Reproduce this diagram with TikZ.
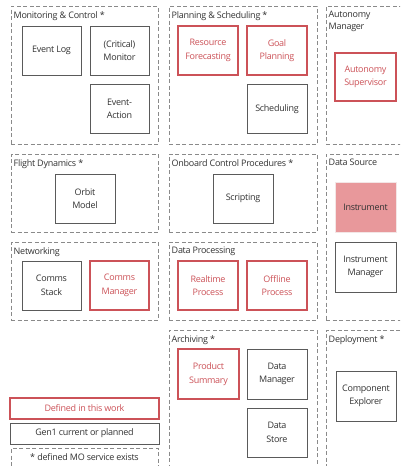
\documentclass[tikz,border=0pt]{standalone}
\usepackage{fontspec}
\setmainfont{Open Sans}
\definecolor{myred}{HTML}{CC5258}
\definecolor{mypink}{HTML}{E8989B}
\definecolor{grpline}{HTML}{8A8A8A}
\definecolor{boxline}{HTML}{5A5A5A}
\definecolor{txt}{HTML}{333333}
\tikzset{
  grp/.style={draw=grpline, dash pattern=on 4pt off 2.5pt, line width=0.9pt, anchor=north west, inner sep=0pt, outer sep=0pt},
  gtitle/.style={anchor=north west, inner sep=0pt, font=\fontsize{9}{12}\selectfont\addfontfeatures{LetterSpace=-3}, text=txt, align=left},
  blk/.style={draw=boxline, line width=1pt, minimum width=59pt, minimum height=49pt, align=center, inner sep=1pt, font=\fontsize{9}{13.5}\selectfont\addfontfeatures{LetterSpace=-3}, text=txt},
  redblk/.style={blk, draw=myred, text=myred, line width=1.3pt},
  fillblk/.style={blk, draw=mypink!85!black!20, fill=mypink, line width=0.6pt},
}
\newcommand\grp[6]{%
  \node[grp, minimum width={#4-#2}, minimum height={#5-#3}] (#1) at (#2,#3) {};
  \node[gtitle] (#1t) at ([xshift=2.5pt,yshift=-5pt]#1.north west) {#6};}
\begin{document}
\begin{tikzpicture}[x=1pt,y=-1pt]
\useasboundingbox (0,0) rectangle (400,466);
\clip (0,0) rectangle (400,466);
\fill[white] (0,0) rectangle (400,466);
% groups
\grp{mc}{11}{6}{158}{144}{Monitoring \& Control *}
\grp{ps}{169}{6}{317}{144}{Planning \& Scheduling *}
\grp{am}{326}{6}{406}{144}{Autonomy\\Manager}
\grp{fd}{11}{154}{158}{232}{Flight Dynamics *}
\grp{ocp}{169}{154}{317}{232}{Onboard Control Procedures *}
\grp{ds}{326}{154}{406}{320}{Data Source}
\grp{nw}{11}{242}{158}{320}{Networking}
\grp{dp}{169}{242}{317}{320}{Data Processing}
\grp{ar}{169}{330}{317}{478}{Archiving *}
\grp{dep}{326}{330}{406}{478}{Deployment *}
% blocks
\node[blk] (evlog) at (51.5,50.5) {Event Log};
\node[blk] (mon) at (119.5,50.5) {(Critical)\\Monitor};
\node[blk] (evact) at (119.5,109) {Event-\\Action};
\node[redblk, minimum width=60pt] (resf) at (208,50.5) {Resource\\Forecasting};
\node[redblk, minimum width=60pt] (goal) at (277,50.5) {Goal\\Planning};
\node[blk, minimum width=60pt] (sched) at (277,109) {Scheduling};
\node[redblk, minimum width=61pt, minimum height=48pt] (asup) at (365.5,77) {Autonomy\\Supervisor};
\node[blk, minimum width=60pt] (orbit) at (85,198.5) {Orbit\\Model};
\node[blk] (cstack) at (51.5,285.5) {Comms\\Stack};
\node[redblk] (cman) at (119.5,285.5) {Comms\\Manager};
\node[blk, minimum width=60pt] (script) at (243,198.5) {Scripting};
\node[redblk, minimum width=60pt] (rt) at (208,285.5) {Realtime\\Process};
\node[redblk, minimum width=60pt] (off) at (277,285.5) {Offline\\Process};
\node[fillblk, minimum width=61pt, minimum height=50pt] (instr) at (365.5,207) {Instrument};
\node[blk, minimum width=61pt, minimum height=50pt] (instrm) at (365.5,267) {Instrument\\Manager};
\node[redblk, minimum width=61pt, minimum height=50pt] (psum) at (208.5,374) {Product\\Summary};
\node[blk, minimum width=60pt, minimum height=50pt] (dman) at (277,374) {Data\\Manager};
\node[blk, minimum width=60pt, minimum height=49pt] (dstore) at (277,432.5) {Data\\Store};
\node[blk, minimum width=60pt, minimum height=50pt] (cexp) at (366,396) {Component\\Explorer};
% legend
\node[redblk, minimum width=149pt, minimum height=21pt] (leg1) at (84.5,408.5) {Defined in this work};
\node[blk, minimum width=149pt, minimum height=21pt] (leg2) at (84.5,433.5) {Gen1 current or planned};
\node[grp, minimum width=147pt, minimum height=30pt] (leg3) at (11,448) {};
\node[font=\fontsize{9}{12}\selectfont\addfontfeatures{LetterSpace=-3}, text=txt, inner sep=0pt] (leg3t) at (84.5,457.5) {* defined MO service exists};
\end{tikzpicture}
\end{document}
